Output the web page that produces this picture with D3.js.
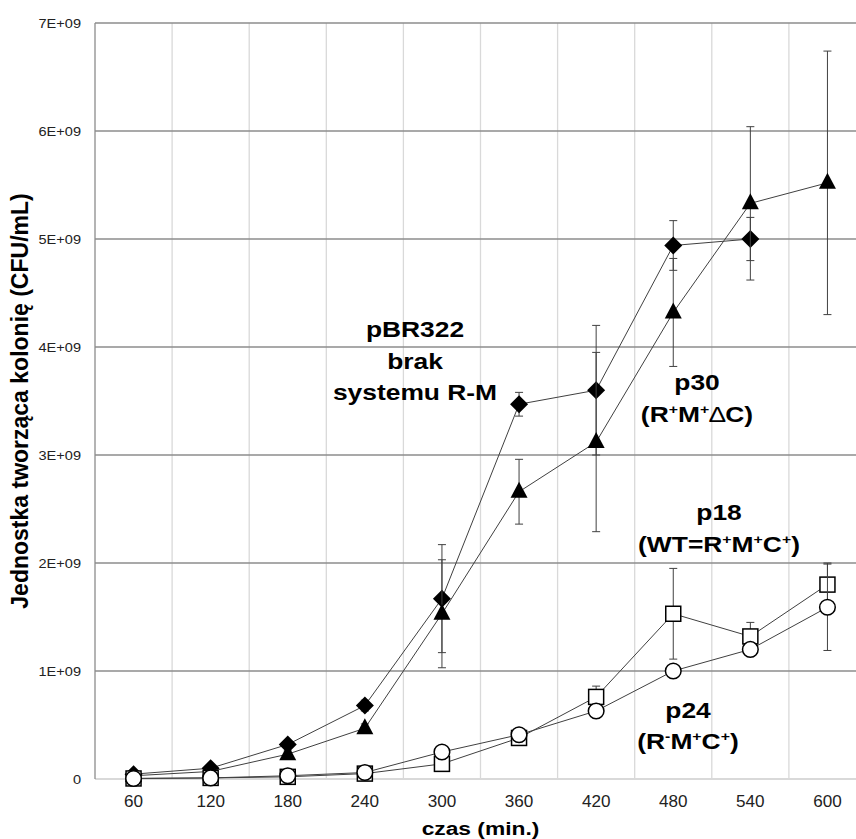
<!DOCTYPE html>
<html><head><meta charset="utf-8">
<script src="https://cdn.jsdelivr.net/npm/d3@7"></script>
<style>body{margin:0;background:#fff}svg{display:block;font-family:"Liberation Sans",Arial,sans-serif}</style>
</head><body><svg id="c" width="856" height="839"></svg>
<script>
const categories = [60,120,180,240,300,360,420,480,540,600];
const yTickValues = [0,1e9,2e9,3e9,4e9,5e9,6e9,7e9];
const yTickLabels = ["0","1E+09","2E+09","3E+09","4E+09","5E+09","6E+09","7E+09"];
// values in units of 1E+09 CFU/mL
const pBR322 = [0.045,0.10,0.32,0.68,1.67,3.47,3.60,4.94,5.00,null];
const pBR322Err = [0.01,0.02,0.03,0.05,0.50,0.11,0.60,0.23,0.20,null];
const p30 = [0.03,0.07,0.23,0.47,1.53,2.66,3.12,4.32,5.33,5.52];
const p30Err = [0.01,0.02,0.03,0.04,0.50,0.30,0.83,0.50,0.71,1.22];
const p18 = [0.005,0.01,0.02,0.05,0.14,0.38,0.76,1.53,1.32,1.80];
const p18Err = [0,0,0.01,0.02,0.03,0.05,0.10,0.42,0.13,0.20];
const p24 = [0.005,0.01,0.03,0.06,0.25,0.41,0.63,1.00,1.20,1.59];
const p24Err = [0,0,0.01,0.02,0.04,0.05,0.06,0.05,0.06,0.40];

const svg = d3.select("#c");
const L = 95, R = 866, T = 23, B = 779;
const x = d3.scaleBand().domain(categories).range([L, R]).padding(0);
const y = d3.scaleLinear().domain([0, 7e9]).range([B, T]);
const cx = d => x(d) + x.bandwidth()/2;

// vertical gridlines (category boundaries)
const g = svg.append("g");
categories.slice(1).forEach(c => {
  g.append("line").attr("x1", x(c)).attr("x2", x(c)).attr("y1", T).attr("y2", B)
    .attr("stroke", "#d9d9d9").attr("stroke-width", 1.3);
});
// horizontal gridlines
yTickValues.forEach(v => {
  if (v === 0) return;
  g.append("line").attr("x1", L).attr("x2", R).attr("y1", y(v)).attr("y2", y(v))
    .attr("stroke", "#8c8c8c").attr("stroke-width", 1.3);
});
// zero line & left axis
g.append("line").attr("x1", L).attr("x2", R).attr("y1", B).attr("y2", B).attr("stroke", "#d9d9d9").attr("stroke-width", 2);
g.append("line").attr("x1", L).attr("x2", L).attr("y1", T).attr("y2", B).attr("stroke", "#8c8c8c").attr("stroke-width", 1.3);

function stext(parent, xx, yy, sx, anchor, size, weight, str) {
  return parent.append("text").attr("transform", `translate(${xx},${yy}) scale(${sx},1)`)
    .attr("text-anchor", anchor).attr("font-size", size).attr("font-weight", weight)
    .attr("fill", "#000").text(str);
}

// y tick labels
yTickValues.forEach((v, i) => {
  stext(svg, 81, y(v) + 4.5, 1.12, "end", 13, "normal", yTickLabels[i]).attr("fill", "#222");
});
// x tick labels
categories.forEach(c => {
  stext(svg, cx(c), 807, 1.07, "middle", 16, "normal", String(c)).attr("fill", "#222");
});
// axis titles
stext(svg, (L+R)/2, 835, 1.2, "middle", 19, "bold", "czas (min.)");
svg.append("text").attr("transform", `translate(28,${(T+B)/2}) rotate(-90)`)
  .attr("text-anchor", "middle").attr("font-size", 23).attr("font-weight", "bold")
  .text("Jednostka tworząca kolonię (CFU/mL)");

// series
const series = [
  {v: pBR322, e: pBR322Err, shape: "diamond"},
  {v: p30, e: p30Err, shape: "triangle"},
  {v: p18, e: p18Err, shape: "square"},
  {v: p24, e: p24Err, shape: "circle"}
];
const line = d3.line().defined(d => d.v != null).x(d => cx(d.c)).y(d => y(d.v * 1e9));
series.forEach(s => {
  const pts = categories.map((c, i) => ({c, v: s.v[i], e: s.e[i]}));
  const sg = svg.append("g");
  // error bars
  pts.filter(p => p.v != null && p.e > 0).forEach(p => {
    const x0 = cx(p.c), y1 = y((p.v + p.e) * 1e9), y2 = y((p.v - p.e) * 1e9);
    sg.append("line").attr("x1", x0).attr("x2", x0).attr("y1", y1).attr("y2", y2).attr("stroke", "#404040").attr("stroke-width", 1);
    [y1, y2].forEach(yy => sg.append("line").attr("x1", x0 - 4).attr("x2", x0 + 4).attr("y1", yy).attr("y2", yy).attr("stroke", "#404040").attr("stroke-width", 1));
  });
  sg.append("path").datum(pts).attr("d", line).attr("fill", "none").attr("stroke", "#404040").attr("stroke-width", 1);
  pts.filter(p => p.v != null).forEach(p => {
    const px = cx(p.c), py = y(p.v * 1e9);
    if (s.shape === "diamond") {
      sg.append("path").attr("d", `M${px},${py-9}L${px+9},${py}L${px},${py+9}L${px-9},${py}Z`).attr("fill", "#000");
    } else if (s.shape === "triangle") {
      sg.append("path").attr("d", `M${px},${py-10}L${px+8.5},${py+6}L${px-8.5},${py+6}Z`).attr("fill", "#000");
    } else if (s.shape === "square") {
      sg.append("rect").attr("x", px - 7.5).attr("y", py - 7.5).attr("width", 15).attr("height", 15)
        .attr("fill", "#fff").attr("stroke", "#000").attr("stroke-width", 1.5);
    } else {
      sg.append("circle").attr("cx", px).attr("cy", py).attr("r", 7.8)
        .attr("fill", "#fff").attr("stroke", "#000").attr("stroke-width", 1.5);
    }
  });
});

// annotations
const F = 22, SX = 1.2;
function richText(xx, yy, parts, size) {
  const t = svg.append("text").attr("transform", `translate(${xx},${yy}) scale(${SX},1)`)
    .attr("text-anchor", "middle").attr("font-size", size).attr("font-weight", "bold");
  parts.forEach(p => {
    const ts = t.append("tspan").text(p[0]);
    if (p[1] === "sup") ts.attr("font-size", size * 0.6).attr("dy", -size * 0.35);
    if (p[1] === "after") ts.attr("dy", size * 0.35);
    if (p[2] === "thin") ts.attr("font-weight", "normal");
  });
  return t;
}
stext(svg, 415, 337, SX, "middle", F, "bold", "pBR322");
stext(svg, 415, 369, SX, "middle", F, "bold", "brak");
stext(svg, 415, 400, SX, "middle", F, "bold", "systemu R-M");
stext(svg, 697, 390, SX, "middle", F, "bold", "p30");
richText(697, 422, [["(R"],["+","sup"],["M","after"],["+","sup"],["∆","after","thin"],["C)"]], F);
stext(svg, 719, 520, SX, "middle", F, "bold", "p18");
richText(719, 552, [["(WT=R"],["+","sup"],["M","after"],["+","sup"],["C","after"],["+","sup"],[")","after"]], F);
stext(svg, 688, 718, SX, "middle", F, "bold", "p24");
richText(688, 749, [["(R"],["-","sup"],["M","after"],["+","sup"],["C","after"],["+","sup"],[")","after"]], F);
</script></body></html>
